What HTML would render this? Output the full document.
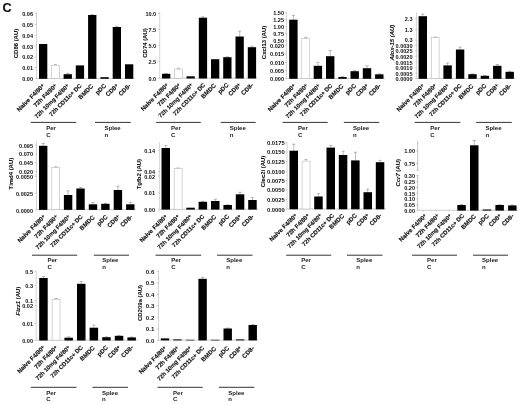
<!DOCTYPE html><html><head><meta charset="utf-8"><title>Figure C</title>
<style>html,body{margin:0;padding:0;background:#fff}svg{display:block}text{font-family:"Liberation Sans", sans-serif;font-weight:bold;fill:#111;stroke:#111;stroke-width:0.15px}.t{font-size:5.55px;text-anchor:end}.x{font-size:6.1px;text-anchor:end}.y{font-size:5.95px;text-anchor:middle;stroke-width:0.08px}.g{font-size:6.05px;stroke:none;fill:#222}.t{stroke:none}.i{font-style:italic}.p{font-size:4.9px}</style></head><body>
<svg width="520" height="405" viewBox="0 0 520 405">
<rect width="520" height="405" fill="#fff"/>
<defs><filter id="b" x="0" y="0" width="100%" height="100%" filterUnits="userSpaceOnUse"><feGaussianBlur stdDeviation="0.38"/></filter></defs><g filter="url(#b)"><rect width="520" height="405" fill="#fff"/>
<text x="2.5" y="12.2" style="font-size:12.6px">C</text>
<g><!-- CD86 -->
<path d="M36.5 12V78.5" stroke="#bbb" stroke-width="0.6" fill="none"/>
<path d="M35.0 13.9H36.5M35.0 24.6H36.5M35.0 35.3H36.5M35.0 46.1H36.5M35.0 56.8H36.5M35.0 67.5H36.5M35.0 78.5H36.5" stroke="#999" stroke-width="0.5"/>
<text class="t" x="33" y="16.3">0.06</text>
<text class="t" x="33" y="27.0">0.05</text>
<text class="t" x="33" y="37.8">0.04</text>
<text class="t" x="33" y="48.5">0.03</text>
<text class="t" x="33" y="59.2">0.02</text>
<text class="t" x="33" y="70.0">0.01</text>
<text class="t" x="33" y="81.0">0.00</text>
<path d="M36.2 78.5H134.8" stroke="#aaa" stroke-width="0.6"/>
<rect x="39.0" y="44" width="8.3" height="34.8" fill="#000"/>
<path d="M55.4 65V64.6M53.8 64.6H57.0" stroke="#808080" stroke-width="0.55" fill="none"/>
<rect x="51.6" y="65.3" width="7.7" height="13.2" fill="#fff" stroke="#b4b4b4" stroke-width="0.55"/>
<path d="M67.7 74.2V73.4M66.1 73.4H69.3" stroke="#808080" stroke-width="0.55" fill="none"/>
<rect x="63.6" y="74.2" width="8.3" height="4.6" fill="#000"/>
<rect x="75.8" y="65.4" width="8.3" height="13.4" fill="#000"/>
<path d="M92.3 15V14.6M90.7 14.6H93.9" stroke="#808080" stroke-width="0.55" fill="none"/>
<rect x="88.1" y="15" width="8.3" height="63.8" fill="#000"/>
<rect x="100.4" y="77.2" width="8.3" height="1.6" fill="#000"/>
<path d="M116.8 27V26.2M115.2 26.2H118.4" stroke="#808080" stroke-width="0.55" fill="none"/>
<rect x="112.7" y="27" width="8.3" height="51.8" fill="#000"/>
<rect x="125.0" y="64.3" width="8.3" height="14.5" fill="#000"/>
<text class="x" transform="translate(45.0 86.2) rotate(-45)">Naive F4/80<tspan class="p" dy="-1.1">+</tspan></text>
<text class="x" style="font-size:6.0px" transform="translate(57.3 86.2) rotate(-45)">72h F4/80<tspan class="p" dy="-1.1">+</tspan></text>
<text class="x" style="font-size:5.8px" transform="translate(69.6 86.2) rotate(-45)">72h 10mg F4/80<tspan class="p" dy="-1.1">+</tspan></text>
<text class="x" style="font-size:5.85px" transform="translate(81.9 86.2) rotate(-45)">72h CD11c+ DC</text>
<text class="x" transform="translate(93.7 86.7) rotate(-45)">BMDC</text>
<text class="x" transform="translate(106.5 86.2) rotate(-45)">pDC</text>
<text class="x" transform="translate(118.7 86.2) rotate(-45)">CD8<tspan class="p" dy="-1.1">+</tspan></text>
<text class="x" transform="translate(131.0 86.2) rotate(-45)">CD8-</text>
<text class="y" transform="translate(17.9 43.5) rotate(-90)">CD86 (AU)</text>
</g>
<g><!-- CD74 -->
<path d="M159.7 12V78.2" stroke="#bbb" stroke-width="0.6" fill="none"/>
<path d="M158.2 13.5H159.7M158.2 29.5H159.7M158.2 45.6H159.7M158.2 61.7H159.7M158.2 78.0H159.7" stroke="#999" stroke-width="0.5"/>
<text class="t" x="156.2" y="16.0">10.0</text>
<text class="t" x="156.2" y="31.9">7.5</text>
<text class="t" x="156.2" y="48.0">5.0</text>
<text class="t" x="156.2" y="64.2">2.5</text>
<text class="t" x="156.2" y="80.5">0.0</text>
<path d="M159.39999999999998 78.2H257.6" stroke="#aaa" stroke-width="0.6"/>
<path d="M166.2 73.8V73.5M164.6 73.5H167.8" stroke="#808080" stroke-width="0.55" fill="none"/>
<rect x="162.0" y="73.8" width="8.3" height="4.7" fill="#000"/>
<path d="M178.4 68.8V68.2M176.8 68.2H180.0" stroke="#808080" stroke-width="0.55" fill="none"/>
<rect x="174.6" y="69.1" width="7.7" height="9.1" fill="#fff" stroke="#b4b4b4" stroke-width="0.55"/>
<rect x="186.5" y="76.3" width="8.3" height="2.2" fill="#000"/>
<path d="M202.9 17.7V16.8M201.3 16.8H204.5" stroke="#808080" stroke-width="0.55" fill="none"/>
<rect x="198.8" y="17.7" width="8.3" height="60.8" fill="#000"/>
<rect x="211.0" y="59.2" width="8.3" height="19.3" fill="#000"/>
<path d="M227.4 57.2V56.8M225.8 56.8H229.0" stroke="#808080" stroke-width="0.55" fill="none"/>
<rect x="223.2" y="57.2" width="8.3" height="21.3" fill="#000"/>
<path d="M239.7 36.5V31.2M238.1 31.2H241.2" stroke="#808080" stroke-width="0.55" fill="none"/>
<rect x="235.5" y="36.5" width="8.3" height="42.0" fill="#000"/>
<path d="M251.9 47.2V46.2M250.3 46.2H253.5" stroke="#808080" stroke-width="0.55" fill="none"/>
<rect x="247.8" y="47.2" width="8.3" height="31.3" fill="#000"/>
<text class="x" transform="translate(168.9 85.5) rotate(-45)">Naive F4/80<tspan class="p" dy="-1.1">+</tspan></text>
<text class="x" style="font-size:6.0px" transform="translate(181.1 85.5) rotate(-45)">72h F4/80<tspan class="p" dy="-1.1">+</tspan></text>
<text class="x" style="font-size:5.8px" transform="translate(193.4 85.5) rotate(-45)">72h 10mg F4/80<tspan class="p" dy="-1.1">+</tspan></text>
<text class="x" style="font-size:5.85px" transform="translate(205.6 85.5) rotate(-45)">72h CD11c+ DC</text>
<text class="x" transform="translate(216.4 86.0) rotate(-45)">BMDC</text>
<text class="x" transform="translate(229.1 85.5) rotate(-45)">pDC</text>
<text class="x" transform="translate(241.4 85.5) rotate(-45)">CD8<tspan class="p" dy="-1.1">+</tspan></text>
<text class="x" transform="translate(253.6 85.5) rotate(-45)">CD8-</text>
<text class="y" transform="translate(146.8 43) rotate(-90)">CD74 (AU)</text>
</g>
<g><!-- Cxcl13 -->
<path d="M286.5 12V78.5" stroke="#bbb" stroke-width="0.6" fill="none"/>
<path d="M285.0 12.7H286.5M285.0 19.7H286.5M285.0 26.7H286.5M285.0 33.6H286.5M285.0 40.5H286.5M285.0 45.4H286.5M285.0 53.9H286.5M285.0 62.3H286.5M285.0 70.5H286.5M285.0 78.7H286.5" stroke="#999" stroke-width="0.5"/>
<text class="t" x="284" y="15.2">1.50</text>
<text class="t" x="284" y="22.1">1.25</text>
<text class="t" x="284" y="29.1">1.00</text>
<text class="t" x="284" y="36.0">0.75</text>
<text class="t" x="284" y="42.9">0.50</text>
<text class="t" x="284" y="47.9">0.020</text>
<text class="t" x="284" y="56.4">0.015</text>
<text class="t" x="284" y="64.8">0.010</text>
<text class="t" x="284" y="73.0">0.005</text>
<text class="t" x="284" y="81.2">0.000</text>
<path d="M286.2 78.5H385.0" stroke="#aaa" stroke-width="0.6"/>
<path d="M293.4 19.7V15.4M291.8 15.4H295.0" stroke="#808080" stroke-width="0.55" fill="none"/>
<rect x="289.2" y="19.7" width="8.4" height="59.1" fill="#000"/>
<path d="M305.7 38V37.3M304.1 37.3H307.3" stroke="#808080" stroke-width="0.55" fill="none"/>
<rect x="301.8" y="38.3" width="7.8" height="40.2" fill="#fff" stroke="#b4b4b4" stroke-width="0.55"/>
<path d="M317.9 65.8V62.3M316.3 62.3H319.5" stroke="#808080" stroke-width="0.55" fill="none"/>
<rect x="313.7" y="65.8" width="8.4" height="13.0" fill="#000"/>
<path d="M330.2 56.2V50.5M328.6 50.5H331.8" stroke="#808080" stroke-width="0.55" fill="none"/>
<rect x="326.0" y="56.2" width="8.4" height="22.6" fill="#000"/>
<path d="M342.5 77V76.6M340.9 76.6H344.1" stroke="#808080" stroke-width="0.55" fill="none"/>
<rect x="338.3" y="77" width="8.4" height="1.8" fill="#000"/>
<path d="M354.7 71.2V70.6M353.1 70.6H356.3" stroke="#808080" stroke-width="0.55" fill="none"/>
<rect x="350.5" y="71.2" width="8.4" height="7.6" fill="#000"/>
<path d="M367.0 68.2V65.8M365.4 65.8H368.6" stroke="#808080" stroke-width="0.55" fill="none"/>
<rect x="362.8" y="68.2" width="8.4" height="10.6" fill="#000"/>
<path d="M379.3 74.3V73.8M377.7 73.8H380.9" stroke="#808080" stroke-width="0.55" fill="none"/>
<rect x="375.1" y="74.3" width="8.4" height="4.5" fill="#000"/>
<text class="x" transform="translate(296.0 86.2) rotate(-45)">Naive F4/80<tspan class="p" dy="-1.1">+</tspan></text>
<text class="x" style="font-size:6.0px" transform="translate(308.3 86.2) rotate(-45)">72h F4/80<tspan class="p" dy="-1.1">+</tspan></text>
<text class="x" style="font-size:5.8px" transform="translate(320.5 86.2) rotate(-45)">72h 10mg F4/80<tspan class="p" dy="-1.1">+</tspan></text>
<text class="x" style="font-size:5.85px" transform="translate(332.8 86.2) rotate(-45)">72h CD11c+ DC</text>
<text class="x" transform="translate(343.9 86.7) rotate(-45)">BMDC</text>
<text class="x" transform="translate(356.6 86.2) rotate(-45)">pDC</text>
<text class="x" transform="translate(368.9 86.2) rotate(-45)">CD8<tspan class="p" dy="-1.1">+</tspan></text>
<text class="x" transform="translate(381.2 86.2) rotate(-45)">CD8-</text>
<text class="y" transform="translate(266.1 42.5) rotate(-90)">Cxcl13 (AU)</text>
</g>
<g><!-- Alox-15 -->
<path d="M416.6 12V78.5" stroke="#bbb" stroke-width="0.6" fill="none"/>
<path d="M415.1 18.9H416.6M415.1 29.7H416.6M415.1 40.0H416.6M415.1 45.1H416.6M415.1 50.7H416.6M415.1 56.3H416.6M415.1 62.0H416.6M415.1 67.7H416.6M415.1 73.2H416.6M415.1 78.9H416.6" stroke="#999" stroke-width="0.5"/>
<text class="t" x="412.5" y="21.3">2.3</text>
<text class="t" x="412.5" y="32.1">1.3</text>
<text class="t" x="412.5" y="42.4">0.3</text>
<text class="t" x="412.5" y="47.5">0.0030</text>
<text class="t" x="412.5" y="53.1">0.0025</text>
<text class="t" x="412.5" y="58.8">0.0020</text>
<text class="t" x="412.5" y="64.5">0.0015</text>
<text class="t" x="412.5" y="70.2">0.0010</text>
<text class="t" x="412.5" y="75.7">0.0005</text>
<text class="t" x="412.5" y="81.4">0.0000</text>
<path d="M416.3 78.5H515.4" stroke="#aaa" stroke-width="0.6"/>
<path d="M422.8 16.2V14.2M421.2 14.2H424.4" stroke="#808080" stroke-width="0.55" fill="none"/>
<rect x="418.6" y="16.2" width="8.4" height="62.6" fill="#000"/>
<path d="M435.2 37.4V37M433.6 37H436.8" stroke="#808080" stroke-width="0.55" fill="none"/>
<rect x="431.3" y="37.7" width="7.8" height="40.8" fill="#fff" stroke="#b4b4b4" stroke-width="0.55"/>
<path d="M447.6 65.4V63M446.0 63H449.2" stroke="#808080" stroke-width="0.55" fill="none"/>
<rect x="443.4" y="65.4" width="8.4" height="13.4" fill="#000"/>
<path d="M460.1 49.5V47M458.5 47H461.7" stroke="#808080" stroke-width="0.55" fill="none"/>
<rect x="455.9" y="49.5" width="8.4" height="29.3" fill="#000"/>
<path d="M472.5 74.2V73.8M470.9 73.8H474.1" stroke="#808080" stroke-width="0.55" fill="none"/>
<rect x="468.3" y="74.2" width="8.4" height="4.6" fill="#000"/>
<path d="M484.9 75.8V75.4M483.3 75.4H486.5" stroke="#808080" stroke-width="0.55" fill="none"/>
<rect x="480.7" y="75.8" width="8.4" height="3.0" fill="#000"/>
<path d="M497.3 65.8V64.5M495.7 64.5H498.9" stroke="#808080" stroke-width="0.55" fill="none"/>
<rect x="493.1" y="65.8" width="8.4" height="13.0" fill="#000"/>
<path d="M509.7 71.8V71.3M508.1 71.3H511.3" stroke="#808080" stroke-width="0.55" fill="none"/>
<rect x="505.5" y="71.8" width="8.4" height="7.0" fill="#000"/>
<text class="x" transform="translate(424.7 86.2) rotate(-45)">Naive F4/80<tspan class="p" dy="-1.1">+</tspan></text>
<text class="x" style="font-size:6.0px" transform="translate(437.1 86.2) rotate(-45)">72h F4/80<tspan class="p" dy="-1.1">+</tspan></text>
<text class="x" style="font-size:5.8px" transform="translate(449.5 86.2) rotate(-45)">72h 10mg F4/80<tspan class="p" dy="-1.1">+</tspan></text>
<text class="x" style="font-size:5.85px" transform="translate(462.0 86.2) rotate(-45)">72h CD11c+ DC</text>
<text class="x" transform="translate(473.9 86.7) rotate(-45)">BMDC</text>
<text class="x" transform="translate(486.8 86.2) rotate(-45)">pDC</text>
<text class="x" transform="translate(499.2 86.2) rotate(-45)">CD8<tspan class="p" dy="-1.1">+</tspan></text>
<text class="x" transform="translate(511.6 86.2) rotate(-45)">CD8-</text>
<text class="y" transform="translate(393.6 42.5) rotate(-90)"><tspan class="i">Alox-15 (AU)</tspan></text>
</g>
<g><!-- Timd4 -->
<path d="M36.5 142V209.6" stroke="#bbb" stroke-width="0.6" fill="none"/>
<path d="M35.0 145.2H36.5M35.0 153.9H36.5M35.0 162.7H36.5M35.0 171.3H36.5M35.0 176.2H36.5M35.0 193.2H36.5M35.0 210.1H36.5" stroke="#999" stroke-width="0.5"/>
<text class="t" x="33" y="147.7">0.095</text>
<text class="t" x="33" y="156.3">0.070</text>
<text class="t" x="33" y="165.2">0.045</text>
<text class="t" x="33" y="173.8">0.020</text>
<text class="t" x="33" y="178.7">0.0050</text>
<text class="t" x="33" y="195.7">0.0025</text>
<text class="t" x="33" y="212.6">0.0000</text>
<path d="M36.2 209.6H136.0" stroke="#aaa" stroke-width="0.6"/>
<path d="M43.2 145.8V143.5M41.6 143.5H44.8" stroke="#808080" stroke-width="0.55" fill="none"/>
<rect x="39.0" y="145.8" width="8.4" height="64.1" fill="#000"/>
<path d="M55.7 167.3V166.8M54.1 166.8H57.3" stroke="#808080" stroke-width="0.55" fill="none"/>
<rect x="51.8" y="167.6" width="7.8" height="42.0" fill="#fff" stroke="#b4b4b4" stroke-width="0.55"/>
<path d="M68.1 195V190.8M66.5 190.8H69.7" stroke="#808080" stroke-width="0.55" fill="none"/>
<rect x="63.9" y="195" width="8.4" height="14.9" fill="#000"/>
<path d="M80.5 188.5V187.5M79.0 187.5H82.1" stroke="#808080" stroke-width="0.55" fill="none"/>
<rect x="76.3" y="188.5" width="8.4" height="21.4" fill="#000"/>
<path d="M93.0 204.3V202.6M91.4 202.6H94.6" stroke="#808080" stroke-width="0.55" fill="none"/>
<rect x="88.8" y="204.3" width="8.4" height="5.6" fill="#000"/>
<path d="M105.5 203.8V203.4M103.9 203.4H107.0" stroke="#808080" stroke-width="0.55" fill="none"/>
<rect x="101.2" y="203.8" width="8.4" height="6.1" fill="#000"/>
<path d="M117.9 190V186.2M116.3 186.2H119.5" stroke="#808080" stroke-width="0.55" fill="none"/>
<rect x="113.7" y="190" width="8.4" height="19.9" fill="#000"/>
<path d="M130.3 204.3V202.3M128.8 202.3H131.9" stroke="#808080" stroke-width="0.55" fill="none"/>
<rect x="126.1" y="204.3" width="8.4" height="5.6" fill="#000"/>
<text class="x" transform="translate(45.7 217.3) rotate(-45)">Naive F4/80<tspan class="p" dy="-1.1">+</tspan></text>
<text class="x" style="font-size:6.0px" transform="translate(58.2 217.3) rotate(-45)">72h F4/80<tspan class="p" dy="-1.1">+</tspan></text>
<text class="x" style="font-size:5.8px" transform="translate(70.6 217.3) rotate(-45)">72h 10mg F4/80<tspan class="p" dy="-1.1">+</tspan></text>
<text class="x" style="font-size:5.85px" transform="translate(83.0 217.3) rotate(-45)">72h CD11c+ DC</text>
<text class="x" transform="translate(95.0 217.8) rotate(-45)">BMDC</text>
<text class="x" transform="translate(108.0 217.3) rotate(-45)">pDC</text>
<text class="x" transform="translate(120.4 217.3) rotate(-45)">CD8<tspan class="p" dy="-1.1">+</tspan></text>
<text class="x" transform="translate(132.8 217.3) rotate(-45)">CD8-</text>
<text class="y" transform="translate(13.4 173.6) rotate(-90)">Timd4 (AU)</text>
</g>
<g><!-- Tgfb2 -->
<path d="M159.6 142V209.3" stroke="#bbb" stroke-width="0.6" fill="none"/>
<path d="M158.1 150.1H159.6M158.1 171.7H159.6M158.1 176.1H159.6M158.1 192.9H159.6M158.1 209.9H159.6" stroke="#999" stroke-width="0.5"/>
<text class="t" x="155" y="152.6">0.14</text>
<text class="t" x="155" y="174.2">0.04</text>
<text class="t" x="155" y="178.6">0.02</text>
<text class="t" x="155" y="195.3">0.01</text>
<text class="t" x="155" y="212.3">0.00</text>
<path d="M159.29999999999998 209.3H258.2" stroke="#aaa" stroke-width="0.6"/>
<path d="M165.8 148V145.5M164.2 145.5H167.3" stroke="#808080" stroke-width="0.55" fill="none"/>
<rect x="161.5" y="148" width="8.5" height="61.6" fill="#000"/>
<path d="M178.1 168.4V168M176.5 168H179.7" stroke="#808080" stroke-width="0.55" fill="none"/>
<rect x="174.2" y="168.7" width="7.9" height="40.6" fill="#fff" stroke="#b4b4b4" stroke-width="0.55"/>
<rect x="186.3" y="207.7" width="8.5" height="1.9" fill="#000"/>
<path d="M202.9 201.8V201.4M201.3 201.4H204.5" stroke="#808080" stroke-width="0.55" fill="none"/>
<rect x="198.6" y="201.8" width="8.5" height="7.8" fill="#000"/>
<path d="M215.3 201V199.2M213.7 199.2H216.9" stroke="#808080" stroke-width="0.55" fill="none"/>
<rect x="211.0" y="201" width="8.5" height="8.6" fill="#000"/>
<path d="M227.7 205V204.7M226.1 204.7H229.2" stroke="#808080" stroke-width="0.55" fill="none"/>
<rect x="223.4" y="205" width="8.5" height="4.6" fill="#000"/>
<path d="M240.0 194.3V192.3M238.4 192.3H241.6" stroke="#808080" stroke-width="0.55" fill="none"/>
<rect x="235.8" y="194.3" width="8.5" height="15.3" fill="#000"/>
<path d="M252.4 200V197.7M250.8 197.7H254.0" stroke="#808080" stroke-width="0.55" fill="none"/>
<rect x="248.2" y="200" width="8.5" height="9.6" fill="#000"/>
<text class="x" transform="translate(167.7 217.0) rotate(-45)">Naive F4/80<tspan class="p" dy="-1.1">+</tspan></text>
<text class="x" style="font-size:6.0px" transform="translate(180.0 217.0) rotate(-45)">72h F4/80<tspan class="p" dy="-1.1">+</tspan></text>
<text class="x" style="font-size:5.8px" transform="translate(192.4 217.0) rotate(-45)">72h 10mg F4/80<tspan class="p" dy="-1.1">+</tspan></text>
<text class="x" style="font-size:5.85px" transform="translate(204.8 217.0) rotate(-45)">72h CD11c+ DC</text>
<text class="x" transform="translate(216.7 217.5) rotate(-45)">BMDC</text>
<text class="x" transform="translate(229.6 217.0) rotate(-45)">pDC</text>
<text class="x" transform="translate(241.9 217.0) rotate(-45)">CD8<tspan class="p" dy="-1.1">+</tspan></text>
<text class="x" transform="translate(254.3 217.0) rotate(-45)">CD8-</text>
<text class="y" transform="translate(141.1 174.2) rotate(-90)">Tgfb2 (AU)</text>
</g>
<g><!-- Clec2i -->
<path d="M287 142V209" stroke="#bbb" stroke-width="0.6" fill="none"/>
<path d="M285.5 142.4H287M285.5 151.9H287M285.5 161.5H287M285.5 171.0H287M285.5 180.5H287M285.5 189.9H287M285.5 199.5H287M285.5 209.2H287" stroke="#999" stroke-width="0.5"/>
<text class="t" style="font-size:5.85px" x="284.8" y="144.8">0.0175</text>
<text class="t" style="font-size:5.85px" x="284.8" y="154.3">0.0150</text>
<text class="t" style="font-size:5.85px" x="284.8" y="164.0">0.0125</text>
<text class="t" style="font-size:5.85px" x="284.8" y="173.5">0.0100</text>
<text class="t" style="font-size:5.85px" x="284.8" y="183.0">0.0075</text>
<text class="t" style="font-size:5.85px" x="284.8" y="192.3">0.0050</text>
<text class="t" style="font-size:5.85px" x="284.8" y="202.0">0.0025</text>
<text class="t" style="font-size:5.85px" x="284.8" y="211.7">0.0000</text>
<path d="M286.7 209H385.8" stroke="#aaa" stroke-width="0.6"/>
<path d="M293.8 150.7V144.2M292.1 144.2H295.4" stroke="#808080" stroke-width="0.55" fill="none"/>
<rect x="289.5" y="150.7" width="8.5" height="58.6" fill="#000"/>
<path d="M306.1 160.8V159.6M304.5 159.6H307.7" stroke="#808080" stroke-width="0.55" fill="none"/>
<rect x="302.1" y="161.1" width="7.9" height="47.9" fill="#fff" stroke="#b4b4b4" stroke-width="0.55"/>
<path d="M318.4 196.5V193.6M316.8 193.6H320.0" stroke="#808080" stroke-width="0.55" fill="none"/>
<rect x="314.2" y="196.5" width="8.5" height="12.8" fill="#000"/>
<path d="M330.7 147.6V145.4M329.1 145.4H332.3" stroke="#808080" stroke-width="0.55" fill="none"/>
<rect x="326.5" y="147.6" width="8.5" height="61.7" fill="#000"/>
<path d="M343.1 155V151.2M341.5 151.2H344.7" stroke="#808080" stroke-width="0.55" fill="none"/>
<rect x="338.8" y="155" width="8.5" height="54.3" fill="#000"/>
<path d="M355.4 160.4V152.2M353.8 152.2H357.0" stroke="#808080" stroke-width="0.55" fill="none"/>
<rect x="351.1" y="160.4" width="8.5" height="48.9" fill="#000"/>
<path d="M367.7 192.2V189.2M366.1 189.2H369.3" stroke="#808080" stroke-width="0.55" fill="none"/>
<rect x="363.5" y="192.2" width="8.5" height="17.1" fill="#000"/>
<path d="M380.1 162.2V160.4M378.5 160.4H381.7" stroke="#808080" stroke-width="0.55" fill="none"/>
<rect x="375.8" y="162.2" width="8.5" height="47.1" fill="#000"/>
<text class="x" transform="translate(297.6 216.0) rotate(-45)">Naive F4/80<tspan class="p" dy="-1.1">+</tspan></text>
<text class="x" style="font-size:6.0px" transform="translate(310.0 216.0) rotate(-45)">72h F4/80<tspan class="p" dy="-1.1">+</tspan></text>
<text class="x" style="font-size:5.8px" transform="translate(322.3 216.0) rotate(-45)">72h 10mg F4/80<tspan class="p" dy="-1.1">+</tspan></text>
<text class="x" style="font-size:5.85px" transform="translate(334.6 216.0) rotate(-45)">72h CD11c+ DC</text>
<text class="x" transform="translate(344.5 216.5) rotate(-45)">BMDC</text>
<text class="x" transform="translate(357.3 216.0) rotate(-45)">pDC</text>
<text class="x" transform="translate(369.6 216.0) rotate(-45)">CD8<tspan class="p" dy="-1.1">+</tspan></text>
<text class="x" transform="translate(382.0 216.0) rotate(-45)">CD8-</text>
<text class="y" transform="translate(264.5 171.5) rotate(-90)">Clec2i (AU)</text>
</g>
<g><!-- Ccr7 -->
<path d="M417.7 141V170.6M417.7 175.3V210.3" stroke="#999" stroke-width="0.6" fill="none"/>
<path d="M416.5 170.6H418.9M416.5 175.3H418.9" stroke="#aaa" stroke-width="0.5"/>
<path d="M416.2 150.9H417.7M416.2 163.5H417.7M416.2 175.9H417.7M416.2 181.7H417.7M416.2 187.5H417.7M416.2 193.2H417.7M416.2 198.9H417.7M416.2 204.9H417.7M416.2 210.9H417.7" stroke="#999" stroke-width="0.5"/>
<text class="t" x="415" y="153.3">1.00</text>
<text class="t" x="415" y="166.0">0.75</text>
<text class="t" x="415" y="178.3">0.30</text>
<text class="t" x="415" y="184.2">0.25</text>
<text class="t" x="415" y="190.0">0.20</text>
<text class="t" x="415" y="195.7">0.15</text>
<text class="t" x="415" y="201.3">0.10</text>
<text class="t" x="415" y="207.3">0.05</text>
<text class="t" x="415" y="213.3">0.00</text>
<path d="M417.4 210.3H518.1" stroke="#aaa" stroke-width="0.6"/>
<path d="M423.4 210.3v1.2" stroke="#aaa" stroke-width="0.5"/>
<path d="M436.1 210.3v1.2" stroke="#aaa" stroke-width="0.5"/>
<path d="M448.8 210.3v1.2" stroke="#aaa" stroke-width="0.5"/>
<path d="M461.5 205V204.6M459.9 204.6H463.1" stroke="#808080" stroke-width="0.55" fill="none"/>
<rect x="457.3" y="205" width="8.5" height="5.6" fill="#000"/>
<path d="M474.2 145.3V140.4M472.6 140.4H475.9" stroke="#808080" stroke-width="0.55" fill="none"/>
<rect x="470.0" y="145.3" width="8.5" height="65.3" fill="#000"/>
<rect x="482.7" y="209.5" width="8.5" height="1.1" fill="#000"/>
<path d="M499.6 205V204.6M498.0 204.6H501.2" stroke="#808080" stroke-width="0.55" fill="none"/>
<rect x="495.4" y="205" width="8.5" height="5.6" fill="#000"/>
<path d="M512.3 205.4V205M510.7 205H513.9" stroke="#808080" stroke-width="0.55" fill="none"/>
<rect x="508.1" y="205.4" width="8.5" height="5.2" fill="#000"/>
<text class="x" transform="translate(427.1 216.3) rotate(-45)">Naive F4/80<tspan class="p" dy="-1.1">+</tspan></text>
<text class="x" style="font-size:6.0px" transform="translate(439.6 216.3) rotate(-45)">72h F4/80<tspan class="p" dy="-1.1">+</tspan></text>
<text class="x" style="font-size:5.8px" transform="translate(452.0 216.3) rotate(-45)">72h 10mg F4/80<tspan class="p" dy="-1.1">+</tspan></text>
<text class="x" style="font-size:5.85px" transform="translate(464.5 216.3) rotate(-45)">72h CD11c+ DC</text>
<text class="x" transform="translate(476.4 216.8) rotate(-45)">BMDC</text>
<text class="x" transform="translate(489.3 216.3) rotate(-45)">pDC</text>
<text class="x" transform="translate(501.8 216.3) rotate(-45)">CD8<tspan class="p" dy="-1.1">+</tspan></text>
<text class="x" transform="translate(514.2 216.3) rotate(-45)">CD8-</text>
<text class="y" transform="translate(400.2 172.8) rotate(-90)"><tspan class="i">Ccr7</tspan> (AU)</text>
</g>
<g><!-- Fizz1 -->
<path d="M36.2 270.5V340.2" stroke="#bbb" stroke-width="0.6" fill="none"/>
<path d="M34.7 271.7H36.2M34.7 285.9H36.2M34.7 300.4H36.2M34.7 305.5H36.2M34.7 323.2H36.2M34.7 340.5H36.2" stroke="#999" stroke-width="0.5"/>
<text class="t" x="33" y="274.1">0.5</text>
<text class="t" x="33" y="288.3">0.3</text>
<text class="t" x="33" y="302.8">0.1</text>
<text class="t" x="33" y="307.9">0.02</text>
<text class="t" x="33" y="325.6">0.01</text>
<text class="t" x="33" y="342.9">0.00</text>
<path d="M35.900000000000006 340.2H137.4" stroke="#aaa" stroke-width="0.6"/>
<path d="M43.5 278V276.5M41.9 276.5H45.1" stroke="#808080" stroke-width="0.55" fill="none"/>
<rect x="39.2" y="278" width="8.5" height="62.5" fill="#000"/>
<path d="M56.1 299.3V298.5M54.5 298.5H57.7" stroke="#808080" stroke-width="0.55" fill="none"/>
<rect x="52.1" y="299.6" width="7.9" height="40.6" fill="#fff" stroke="#b4b4b4" stroke-width="0.55"/>
<path d="M68.7 337.7V336.8M67.1 336.8H70.2" stroke="#808080" stroke-width="0.55" fill="none"/>
<rect x="64.4" y="337.7" width="8.5" height="2.8" fill="#000"/>
<path d="M81.2 283.8V281.5M79.7 281.5H82.8" stroke="#808080" stroke-width="0.55" fill="none"/>
<rect x="77.0" y="283.8" width="8.5" height="56.7" fill="#000"/>
<path d="M93.8 327.7V325M92.2 325H95.4" stroke="#808080" stroke-width="0.55" fill="none"/>
<rect x="89.6" y="327.7" width="8.5" height="12.8" fill="#000"/>
<path d="M106.5 337.2V336.8M104.9 336.8H108.0" stroke="#808080" stroke-width="0.55" fill="none"/>
<rect x="102.2" y="337.2" width="8.5" height="3.3" fill="#000"/>
<path d="M119.0 335.8V335.4M117.5 335.4H120.6" stroke="#808080" stroke-width="0.55" fill="none"/>
<rect x="114.8" y="335.8" width="8.5" height="4.7" fill="#000"/>
<path d="M131.7 337.4V337M130.1 337H133.2" stroke="#808080" stroke-width="0.55" fill="none"/>
<rect x="127.4" y="337.4" width="8.5" height="3.1" fill="#000"/>
<text class="x" transform="translate(45.4 347.9) rotate(-45)">Naive F4/80<tspan class="p" dy="-1.1">+</tspan></text>
<text class="x" style="font-size:6.0px" transform="translate(58.0 347.9) rotate(-45)">72h F4/80<tspan class="p" dy="-1.1">+</tspan></text>
<text class="x" style="font-size:5.8px" transform="translate(70.6 347.9) rotate(-45)">72h 10mg F4/80<tspan class="p" dy="-1.1">+</tspan></text>
<text class="x" style="font-size:5.85px" transform="translate(83.2 347.9) rotate(-45)">72h CD11c+ DC</text>
<text class="x" transform="translate(95.2 348.4) rotate(-45)">BMDC</text>
<text class="x" transform="translate(108.4 347.9) rotate(-45)">pDC</text>
<text class="x" transform="translate(121.0 347.9) rotate(-45)">CD8<tspan class="p" dy="-1.1">+</tspan></text>
<text class="x" transform="translate(133.6 347.9) rotate(-45)">CD8-</text>
<text class="y" transform="translate(20.0 301.1) rotate(-90)"><tspan class="i">Fizz1</tspan> (AU)</text>
</g>
<g><!-- CD209b -->
<path d="M158.5 270.5V340.1" stroke="#bbb" stroke-width="0.6" fill="none"/>
<path d="M157.0 271.5H158.5M157.0 283.0H158.5M157.0 294.5H158.5M157.0 305.9H158.5M157.0 317.1H158.5M157.0 328.7H158.5M157.0 340.5H158.5" stroke="#999" stroke-width="0.5"/>
<text class="t" style="font-size:6.1px" x="154.3" y="273.9">0.6</text>
<text class="t" style="font-size:6.1px" x="154.3" y="285.4">0.5</text>
<text class="t" style="font-size:6.1px" x="154.3" y="296.9">0.4</text>
<text class="t" style="font-size:6.1px" x="154.3" y="308.3">0.3</text>
<text class="t" style="font-size:6.1px" x="154.3" y="319.5">0.2</text>
<text class="t" style="font-size:6.1px" x="154.3" y="331.1">0.1</text>
<text class="t" style="font-size:6.1px" x="154.3" y="342.9">0.0</text>
<path d="M158.2 340.1H258.4" stroke="#aaa" stroke-width="0.6"/>
<rect x="160.8" y="338.4" width="8.4" height="2.0" fill="#000"/>
<rect x="173.3" y="339.4" width="8.4" height="1.0" fill="#000"/>
<rect x="185.9" y="339.8" width="8.4" height="0.6" fill="#000"/>
<path d="M202.6 278.8V277.3M201.0 277.3H204.2" stroke="#808080" stroke-width="0.55" fill="none"/>
<rect x="198.4" y="278.8" width="8.4" height="61.6" fill="#000"/>
<rect x="210.9" y="339.8" width="8.4" height="0.6" fill="#000"/>
<path d="M227.7 328.5V328M226.1 328H229.2" stroke="#808080" stroke-width="0.55" fill="none"/>
<rect x="223.5" y="328.5" width="8.4" height="11.9" fill="#000"/>
<rect x="236.0" y="339.4" width="8.4" height="1.0" fill="#000"/>
<path d="M252.7 325V324.5M251.1 324.5H254.3" stroke="#808080" stroke-width="0.55" fill="none"/>
<rect x="248.5" y="325" width="8.4" height="15.4" fill="#000"/>
<text class="x" transform="translate(166.9 348.6) rotate(-45)">Naive F4/80<tspan class="p" dy="-1.1">+</tspan></text>
<text class="x" style="font-size:6.0px" transform="translate(179.4 348.6) rotate(-45)">72h F4/80<tspan class="p" dy="-1.1">+</tspan></text>
<text class="x" style="font-size:5.8px" transform="translate(192.0 348.6) rotate(-45)">72h 10mg F4/80<tspan class="p" dy="-1.1">+</tspan></text>
<text class="x" style="font-size:5.85px" transform="translate(204.5 348.6) rotate(-45)">72h CD11c+ DC</text>
<text class="x" transform="translate(216.5 349.1) rotate(-45)">BMDC</text>
<text class="x" transform="translate(229.6 348.6) rotate(-45)">pDC</text>
<text class="x" transform="translate(242.1 348.6) rotate(-45)">CD8<tspan class="p" dy="-1.1">+</tspan></text>
<text class="x" transform="translate(254.6 348.6) rotate(-45)">CD8-</text>
<text class="y" transform="translate(142.4 303) rotate(-90)">CD209a (AU)</text>
</g>
<path d="M30.8 122.4H76.2M95 122.4H130.8" stroke="#333" stroke-width="1"/>
<text class="g" x="46.2" y="129.8">Per</text><text class="g" x="46.2" y="136.6">C</text>
<text class="g" x="104.6" y="129.8">Splee</text><text class="g" x="104.6" y="136.6">n</text>
<path d="M156.2 122.4H200.8M220.8 122.4H255.7" stroke="#333" stroke-width="1"/>
<text class="g" x="171" y="129.8">Per</text><text class="g" x="171" y="136.6">C</text>
<text class="g" x="229.7" y="129.8">Splee</text><text class="g" x="229.7" y="136.6">n</text>
<path d="M282.6 122.4H327.7M343.8 122.4H379.2" stroke="#333" stroke-width="1"/>
<text class="g" x="298" y="129.8">Per</text><text class="g" x="298" y="136.6">C</text>
<text class="g" x="353" y="129.8">Splee</text><text class="g" x="353" y="136.6">n</text>
<path d="M414.6 122.4H460.3M476.2 122.4H511.8" stroke="#333" stroke-width="1"/>
<text class="g" x="430.3" y="129.8">Per</text><text class="g" x="430.3" y="136.6">C</text>
<text class="g" x="485.4" y="129.8">Splee</text><text class="g" x="485.4" y="136.6">n</text>
<path d="M32 255.2H77.2M93.8 255.2H129" stroke="#333" stroke-width="1"/>
<text class="g" x="47.4" y="262.4">Per</text><text class="g" x="47.4" y="269.1">C</text>
<text class="g" x="102.3" y="262.4">Splee</text><text class="g" x="102.3" y="269.1">n</text>
<path d="M155.5 255.2H201.2M217 255.2H252.5" stroke="#333" stroke-width="1"/>
<text class="g" x="171.2" y="262.4">Per</text><text class="g" x="171.2" y="269.1">C</text>
<text class="g" x="226.2" y="262.4">Splee</text><text class="g" x="226.2" y="269.1">n</text>
<path d="M286.2 255.2H331.2M347 255.2H382.5" stroke="#333" stroke-width="1"/>
<text class="g" x="301.2" y="262.4">Per</text><text class="g" x="301.2" y="269.1">C</text>
<text class="g" x="356.2" y="262.4">Splee</text><text class="g" x="356.2" y="269.1">n</text>
<path d="M412 255.2H457M473 255.2H508" stroke="#333" stroke-width="1"/>
<text class="g" x="427" y="262.4">Per</text><text class="g" x="427" y="269.1">C</text>
<text class="g" x="482" y="262.4">Splee</text><text class="g" x="482" y="269.1">n</text>
<path d="M30.8 387.3H76.5M92.5 387.3H128" stroke="#333" stroke-width="1"/>
<text class="g" x="46.2" y="394.5">Per</text><text class="g" x="46.2" y="401.1">C</text>
<text class="g" x="101.9" y="394.5">Splee</text><text class="g" x="101.9" y="401.1">n</text>
<path d="M157.5 387.3H202.7M218.9 387.3H254.4" stroke="#333" stroke-width="1"/>
<text class="g" x="173" y="394.5">Per</text><text class="g" x="173" y="401.1">C</text>
<text class="g" x="228.3" y="394.5">Splee</text><text class="g" x="228.3" y="401.1">n</text>
</g></svg></body></html>
